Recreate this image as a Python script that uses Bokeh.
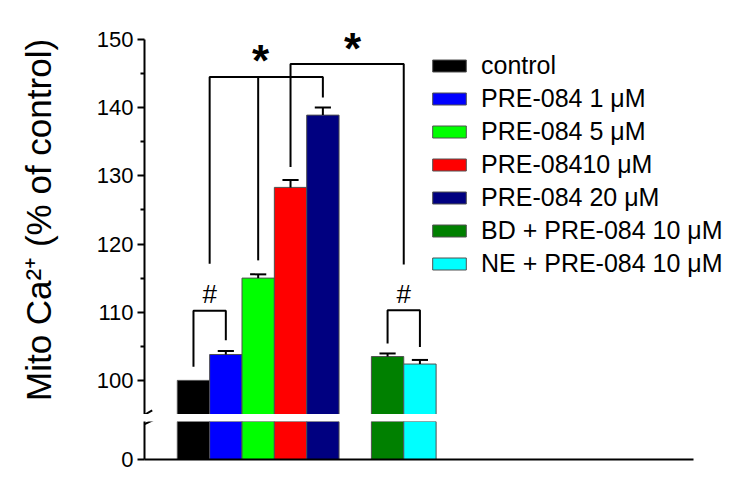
from bokeh.plotting import figure
from bokeh.layouts import column
from bokeh.models import Range1d, FixedTicker, Legend, LegendItem, Arrow, ColumnDataSource
from bokeh.core.properties import value
from bokeh.embed import file_html
from bokeh.resources import INLINE

# ---- data ----
labels = ["control", "PRE-084 1 \u03bcM", "PRE-084 5 \u03bcM", "PRE-08410 \u03bcM",
          "PRE-084 20 \u03bcM", "BD + PRE-084 10 \u03bcM", "NE + PRE-084 10 \u03bcM"]
positions = [1, 2, 3, 4, 5, 7, 8]
means = [100.0, 103.8, 115.0, 128.3, 138.9, 103.5, 102.4]
errors = [0.0, 0.5, 0.55, 1.1, 1.1, 0.45, 0.6]
colors = ["#000000", "#0000FF", "#00FF00", "#FF0000", "#000080", "#008000", "#00FFFF"]

major_ticks = [100, 110, 120, 130, 140, 150]
minor_ticks = [105, 115, 125, 135, 145]

# significance brackets (x in bar positions, y in % of control)
bracket_xs = [[1, 1, 2, 2], [7, 7, 8, 8], [1.5, 1.5, 5, 5], [3, 3], [4, 4, 7.5, 7.5]]
bracket_ys = [[102.0, 110.2, 110.2, 105.9], [105.4, 110.3, 110.3, 104.9],
              [117.1, 144.5, 144.5, 141.5], [117.6, 144.5], [131.3, 146.4, 146.4, 117.0]]
hash_x = [1.5, 7.5]
hash_y = [112.6, 112.6]
star_x = [3.07, 5.92]
star_y = [147.8, 149.6]

FONT = "Liberation Sans"

src = ColumnDataSource(dict(x=positions, top=means, color=colors, label=labels))
err_src = ColumnDataSource(dict(
    x=[p for p, e in zip(positions, errors) if e > 0],
    y0=[m for m, e in zip(means, errors) if e > 0],
    y1=[m + e for m, e in zip(means, errors) if e > 0],
    cl=[p - 0.25 for p, e in zip(positions, errors) if e > 0],
    cr=[p + 0.25 for p, e in zip(positions, errors) if e > 0]))

X0, X_AXIS_END, X1 = -0.514, 16.456, 17.91


def style_yaxis(ax):
    ax.axis_line_width = 2
    ax.axis_line_color = "black"
    ax.major_tick_line_width = 2
    ax.minor_tick_line_width = 2
    ax.major_tick_in = 0
    ax.major_tick_out = 7
    ax.minor_tick_in = 0
    ax.minor_tick_out = 4
    ax.major_label_standoff = 4
    ax.major_label_text_font = FONT
    ax.major_label_text_font_size = "22px"
    ax.major_label_text_color = "black"


# ---- top panel ----
top = figure(frame_width=596, frame_height=389, x_range=Range1d(X0, X1),
             y_range=Range1d(95, 152.04), x_axis_location=None,
             output_backend="svg", toolbar_location=None,
             min_border_left=144, min_border_right=5, min_border_top=25,
             min_border_bottom=0)
top.outline_line_color = None
top.grid.grid_line_color = None
bars = top.vbar(x="x", top="top", bottom=0, width=1.0, fill_color="color",
                line_color="#505050", line_width=1, source=src)
top.segment(x0="x", y0="y0", x1="x", y1="y1", line_width=2, color="black", source=err_src)
top.segment(x0="cl", y0="y1", x1="cr", y1="y1", line_width=2, color="black", source=err_src)
top.multi_line(xs=bracket_xs, ys=bracket_ys, line_width=2, color="black")
top.text(x=hash_x, y=hash_y, text=["#", "#"], text_font=value(FONT), text_font_size="26px",
         text_align="center", text_baseline="alphabetic", y_offset=0, text_color="black")
top.text(x=star_x, y=star_y, text=["*", "*"], text_font=value(FONT), text_font_size="44px",
         text_font_style="bold", text_align="center", text_baseline="alphabetic",
         y_offset=6, text_color="black")

ya = top.yaxis[0]
ya.ticker = FixedTicker(ticks=major_ticks, minor_ticks=minor_ticks)
ya.bounds = (95, 150)
style_yaxis(ya)
ya.axis_label = "Mito Ca\u00b2\u207a (% of control)"
ya.axis_label_text_font = FONT
ya.axis_label_text_font_size = "35px"
ya.axis_label_text_font_style = "normal"
ya.axis_label_text_color = "black"
ya.axis_label_standoff = 36

# break mark (upper slash)
top.add_layout(Arrow(end=None, start=None, x_start=-0.74, y_start=94.37,
                     x_end=-0.276, y_end=95.59, line_width=2, line_color="black"))

legend = Legend(items=[LegendItem(label=lab, renderers=[bars], index=i)
                       for i, lab in enumerate(labels)],
                location=(284, 136), glyph_width=42, glyph_height=15,
                label_height=28, spacing=4, padding=0, margin=0,
                label_standoff=11, label_text_font=FONT, label_text_font_size="25px",
                label_text_color="black", border_line_color=None,
                background_fill_alpha=0)
top.add_layout(legend)

# ---- bottom panel ----
bot = figure(frame_width=596, frame_height=38, x_range=top.x_range,
             y_range=Range1d(0, 5.572), output_backend="svg", toolbar_location=None,
             min_border_left=144, min_border_right=5, min_border_top=7,
             min_border_bottom=20)
bot.outline_line_color = None
bot.grid.grid_line_color = None
bot.vbar(x="x", top="top", bottom=0, width=1.0, fill_color="color",
         line_color="#505050", line_width=1, source=src)
yb = bot.yaxis[0]
yb.ticker = FixedTicker(ticks=[0], minor_ticks=[])
style_yaxis(yb)
xb = bot.xaxis[0]
xb.ticker = FixedTicker(ticks=[], minor_ticks=[])
xb.bounds = (X0, X_AXIS_END)
xb.axis_line_width = 2
xb.axis_line_color = "black"
xb.major_tick_line_color = None
xb.minor_tick_line_color = None
xb.major_label_text_font_size = "0px"
bot.add_layout(Arrow(end=None, start=None, x_start=-0.721, y_start=4.74,
                     x_end=-0.226, y_end=5.82, line_width=2, line_color="black"))

layout = column(top, bot, spacing=0)
open("out.html", "w").write(file_html(layout, INLINE))
